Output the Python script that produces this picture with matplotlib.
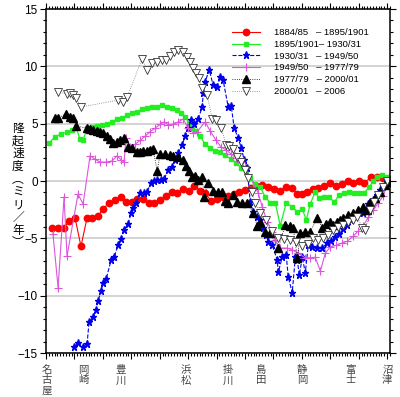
import matplotlib
matplotlib.use("Agg")
import matplotlib.pyplot as plt
from matplotlib.ticker import MultipleLocator

plt.rcParams['font.family'] = ['Liberation Sans', 'Noto Sans CJK JP', 'DejaVu Sans']

# 距離(km, 名古屋から) と 隆起速度(mm/年)
red_x = [4.2, 8.5, 12.7, 16.2, 20.4, 24.6, 28.9, 32.4, 36.6, 40.1, 44.4, 48.6, 52.8, 56.3, 60.6,
         64.1, 68.3, 72.5, 76.1, 80.3, 84.5, 88.7, 92.3, 96.5, 100.7, 104.2, 108.5, 112.0, 116.2,
         120.4, 124.6, 128.2, 132.4, 135.9, 140.1, 144.4, 147.9, 152.1, 156.3, 160.6, 164.8, 169.0,
         173.2, 176.8, 180.3, 183.8, 188.0, 191.5, 195.8, 200.0, 204.2, 208.5, 212.7, 216.2, 220.4,
         223.9, 228.9, 233.1, 237.3, 240.8]
red_y = [-4.1, -4.1, -4.1, -3.5, -3.2, -5.7, -3.2, -3.2, -3.05, -2.45, -1.9, -1.65, -1.4, -1.8, -1.8,
         -1.55, -1.55, -1.9, -1.9, -1.65, -1.3, -0.95, -1.05, -0.7, -0.85, -0.45, -0.85, -1.05, -1.75,
         -1.55, -1.4, -1.3, -1.15, -0.95, -0.8, -0.6, -0.45, -0.35, -0.5, -0.7, -0.85, -0.5,
         -0.6, -1.15, -1.15, -0.95, -0.7, -0.6, -0.45, -0.15, -0.45, -0.25, 0.0, -0.15, 0.0,
         -0.15, 0.35, 0.35, 0.25, 0.15]

green_x = [2.1, 6.3, 10.6, 14.8, 18.3, 21.1, 23.9, 26.1, 28.9, 32.4, 35.9, 39.4, 43.0, 46.5, 50.0,
           53.5, 57.0, 60.6, 64.1, 67.6, 71.1, 74.6, 78.2, 81.7, 85.2, 88.7, 92.3, 95.1, 97.9, 100.7,
           102.8, 105.6, 108.5, 112.0, 115.5, 119.0, 122.5, 126.1, 130.3, 133.8, 137.3, 140.8, 143.7,
           147.2, 150.7, 154.2, 157.7, 161.3, 164.8, 169.0, 173.2, 176.8, 180.3, 183.1, 185.9, 189.4,
           192.3, 195.8, 199.3, 202.8, 206.3, 209.9, 213.4, 216.9, 220.4, 223.9, 227.5, 230.3, 233.1,
           236.6, 240.1]
green_y = [3.3, 3.85, 4.1, 4.25, 4.45, 4.7, 3.65, 3.55, 4.6, 4.7, 4.8, 4.9, 4.95, 5.15, 5.4,
           5.5, 5.75, 5.95, 6.0, 6.3, 6.35, 6.45, 6.45, 6.6, 6.45, 6.35, 6.2, 5.95, 5.6, 5.05,
           4.6, 4.35, 3.9, 3.2, 2.9, 2.6, 2.5, 2.25, 1.9, 1.6, 1.15, 0.85, 0.25,
           -0.25, -0.5, -1.4, -1.9, -1.9, -3.9, -1.9, -2.25, -2.7, -2.45, -3.4, -2.0, -0.95,
           -1.5, -1.4, -1.4, -1.85, -1.2, -1.05, -0.95, -1.05, -1.05, -1.05, -0.5, 0.0, 0.35,
           0.5, 0.35]

blue_x = [19.7, 22.5, 26.1, 28.9, 30.3, 33.1, 35.2, 36.6, 38.7, 40.1, 42.3, 45.8, 47.9, 50.7, 52.8,
          54.9, 57.7, 59.9, 61.3, 63.4, 66.2, 69.0, 71.1, 73.9, 76.1, 78.2, 81.0, 83.1, 85.9, 88.7,
          90.8, 93.0, 95.8, 97.9, 100.0, 102.1, 104.2, 107.0, 109.9, 110.6, 112.0, 114.8, 117.6,
          120.4, 122.5, 124.6, 128.2, 130.3, 132.4, 135.2, 137.3, 139.4, 141.5, 143.7, 145.8,
          148.6, 150.7, 152.8, 154.9, 156.3, 159.2, 162.7, 163.4, 166.2, 169.0, 170.4, 173.2,
          175.4, 176.8, 178.2, 180.3, 182.4, 184.5, 187.3, 190.8, 194.4, 197.9, 200.7, 203.5,
          206.3, 209.2, 212.0, 214.8, 217.6, 220.4, 223.2, 226.8, 230.3, 233.1, 235.2, 237.3, 240.1]
blue_y = [-14.5, -14.1, -14.5, -14.2, -12.3, -11.85, -11.25, -10.45, -9.6, -8.9, -8.55, -6.9, -6.65,
          -5.6, -5.05, -4.25, -3.75, -2.8, -2.35, -1.9, -1.05, -1.05, -0.95, -0.15, 0.0, 0.1, 0.1,
          0.15, 0.95, 1.2, 1.85, 2.45, 3.15, 3.9, 4.6, 5.3, 4.95, 5.4, 6.45, 7.65, 8.65, 9.7, 8.35,
          8.2, 9.05, 8.8, 6.45, 6.55, 4.6, 3.75, 2.9, 1.85, 1.15, -1.85, -2.7, -3.15, -3.4, -4.1,
          -4.7, -5.3, -5.6, -6.9, -7.95, -6.65, -6.45, -8.35, -9.75, -6.65, -6.9, -8.2, -6.65, -8.0,
          -5.6, -5.75, -5.85, -5.85, -5.4, -5.25, -4.9, -4.6, -4.2, -3.85, -3.4, -3.05, -2.8, -2.8,
          -2.0, -1.65, -1.2, -0.8, -0.5, 0.0]

mag_x = [4.9, 8.5, 12.7, 14.8, 22.5, 26.1, 31.0, 34.5, 38.0, 42.3, 46.5, 50.0, 52.8, 54.9, 56.3,
         59.2, 62.7, 66.2, 69.7, 73.2, 76.8, 80.3, 83.1, 85.9, 89.4, 93.0, 96.5, 100.0, 103.5, 106.3,
         112.0, 115.5, 119.7, 123.2, 126.8, 130.3, 133.8, 137.3, 140.1, 149.3, 152.1, 155.6, 159.2,
         161.3, 164.8, 169.7, 173.2, 177.5, 182.4, 185.9, 189.4, 193.0, 196.5, 200.0, 204.2, 208.5,
         212.0, 216.2, 219.7, 223.2, 226.8, 230.3, 233.8, 237.3, 240.1]
mag_y = [-4.6, -9.3, -1.4, -6.55, -1.15, -2.0, 2.2, 1.9, 1.65, 1.65, 1.75, 2.2, 1.85, 1.65, 3.75,
         2.95, 3.2, 3.55, 3.9, 4.3, 4.6, 4.95, 5.15, 4.9, 4.95, 5.15, 5.4, 4.6, 4.2, 4.3,
         5.15, 4.35, 3.55, 2.95, 2.7, 2.35, 2.0, 1.65, 1.15, -1.05, -2.25, -3.55, -4.45,
         -5.15, -5.85, -5.85, -6.0, -6.3, -6.7, -6.7, -6.65, -7.85, -6.3, -5.75, -5.6, -5.4,
         -5.25, -4.8, -4.35, -3.9, -3.15, -2.55, -1.9, -1.3, -0.25]

blk_x = [6.3, 8.5, 14.1, 16.9, 19.0, 21.1, 28.9, 31.0, 33.1, 35.9, 38.0, 40.1, 43.0, 45.1, 47.2, 50.0,
         52.1, 54.9, 57.7, 60.6, 64.1, 66.2, 68.3, 71.1, 73.2, 75.4, 78.2, 80.3, 83.8, 87.3, 89.4,
         93.0, 96.5, 98.6, 100.7, 102.8, 104.9, 107.0, 109.9, 111.3, 114.1, 117.6, 121.1, 123.9,
         126.1, 128.2, 131.7, 134.5, 138.0, 141.5, 145.8, 148.6, 150.7, 154.2, 157.7, 163.4,
         168.3, 171.8, 173.9, 176.8, 178.9, 182.4, 185.9, 190.8, 194.4, 197.2, 200.0, 202.1,
         204.9, 207.0, 209.2, 212.7, 216.2, 219.7, 223.2, 226.1, 228.2, 231.7, 235.2, 238.7, 240.8]
blk_y = [5.5, 5.5, 5.85, 5.6, 5.5, 4.8, 4.6, 4.55, 4.45, 4.35, 4.3, 4.2, 3.9, 3.65, 3.3, 3.4,
         3.55, 3.75, 2.95, 2.9, 2.5, 2.5, 2.6, 2.6, 2.7, 2.8, 0.85, 2.35, 2.35, 2.25, 2.2,
         2.1, 1.85, 1.3, 0.85, 0.35, 0.45, 0.1, 0.35, -1.4, -0.15, -0.85, -0.95, -0.95,
         -1.75, -1.9, -1.2, -1.85, -1.9, -1.9, -2.8, -3.9, -3.55, -4.45, -4.55, -5.85,
         -3.85, -3.9, -4.1, -6.7, -4.55, -4.45, -4.45, -3.2, -4.1, -3.75, -3.55, -3.85,
         -3.55, -3.4, -3.2, -2.95, -2.8, -2.55, -2.25, -2.55, -1.85, -1.5, -0.95, -0.35, -0.1]

wht_x = [8.5, 14.8, 16.9, 19.0, 21.1, 24.6, 50.7, 54.2, 57.0, 67.6, 71.1, 74.6, 78.2, 81.7, 84.5,
         87.3, 90.1, 93.0, 96.5, 99.3, 101.4, 103.5, 105.6, 107.7, 109.9, 113.4, 116.9, 119.7, 123.2,
         126.8, 128.9, 131.7, 134.5, 137.3, 140.1, 142.3, 145.1, 147.2, 150.7, 154.9, 159.2, 163.4,
         167.6, 171.8, 176.1, 180.3, 184.5, 188.0, 191.5, 195.1, 198.6, 202.1, 205.6, 209.2, 212.7,
         216.2, 219.0, 222.5, 224.6, 228.2, 231.0, 233.8, 237.3, 240.1]
wht_y = [7.75, 7.6, 7.65, 7.5, 7.25, 6.45, 7.05, 6.9, 7.3, 10.65, 9.7, 10.3, 10.35, 10.55, 10.55,
         10.9, 11.25, 11.4, 11.25, 10.8, 10.35, 9.85, 9.4, 9.0, 8.1, 7.5, 5.4, 5.3, 4.6,
         3.15, 3.05, 2.8, 2.1, 1.65, 0.95, 0.25, -0.95, -1.9, -2.8, -3.4, -4.35, -4.95,
         -5.05, -5.15, -5.3, -5.65, -5.5, -4.95, -5.15, -4.95, -4.7, -4.25, -4.0, -3.85, -3.55,
         -3.4, -3.15, -4.1, -4.25, -2.55, -1.85, -1.2, -0.5, 0.0]

labels = ["1884/85   – 1895/1901", "1895/1901– 1930/31", "1930/31   – 1949/50",
          "1949/50   – 1977/79", "1977/79   – 2000/01", "2000/01   – 2006"]

stations = ["名古屋", "岡崎", "豊川", "浜松", "掛川", "島田", "静岡", "富士", "沼津"]
station_km = [0.7, 26.1, 52.8, 98.6, 128.2, 151.4, 180.3, 214.1, 240.1]

fig = plt.figure(figsize=(4.0, 3.97), dpi=100)
ax = fig.add_axes([46/400, 1-353/397, 344/400, 344/397])

ax.plot(red_x, red_y, '-o', color='#ff0000', lw=0.8, ms=4.6, label=labels[0])
ax.plot(green_x, green_y, '-s', color='#22ee22', lw=0.9, ms=2.6, label=labels[1])
ax.plot(blue_x, blue_y, '--*', color='#0000ee', lw=0.8, ms=5.2, label=labels[2])
ax.plot(mag_x, mag_y, '-+', color='#dd55dd', lw=0.8, ms=6, mew=0.8, label=labels[3])
ax.plot(blk_x, blk_y, ':^', color='black', lw=0.6, ms=5.2, label=labels[4])
ax.plot(wht_x, wht_y, ':v', color='#777777', lw=0.6, ms=5.2, mfc='white', mec='#333333',
        mew=0.6, label=labels[5])

ax.set_xlim(0, 242)
ax.set_ylim(-15, 15)
ax.xaxis.set_major_locator(MultipleLocator(20))
ax.xaxis.set_minor_locator(MultipleLocator(2))
ax.yaxis.set_major_locator(MultipleLocator(5))
ax.yaxis.set_minor_locator(MultipleLocator(1))
ax.tick_params(which='both', direction='out', top=True, right=True, labelbottom=False, width=0.8)
ax.tick_params(which='major', length=4, labelsize=8.5, pad=2)
ax.tick_params(which='minor', length=2)
ax.yaxis.grid(True, color='#cccccc', lw=1.2)
ax.set_axisbelow(True)
for s in ax.spines.values():
    s.set_linewidth(1.1)

for name, km in zip(stations, station_km):
    ax.text(km, -0.035, "\n".join(name), transform=ax.get_xaxis_transform(),
            ha='center', va='top', fontsize=7.5, color='#444444', linespacing=1.05)

fig.text(18/400, 1-186/397, "\n".join("隆起速度︵ミリ／年︶"), ha='center', va='center',
         fontsize=8.5, linespacing=1.08)

ax.legend(loc='upper left', bbox_to_anchor=(232/400, 1-28/397), bbox_transform=fig.transFigure,
          frameon=False, fontsize=6.8, handlelength=3.0, handletextpad=1.4, labelspacing=0.3,
          borderpad=0, borderaxespad=0)

fig.savefig("out.png", dpi=100)
